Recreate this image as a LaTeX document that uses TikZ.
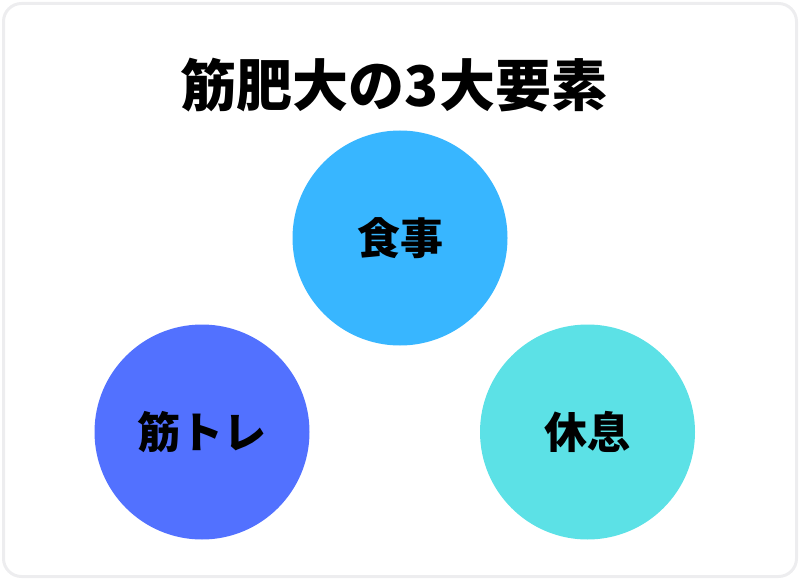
\documentclass[tikz,border=0pt]{standalone}
\usepackage{fontspec}
\setmainfont{Noto Sans CJK JP}
\usepackage{tikz}
\usetikzlibrary{positioning}
\definecolor{foodblue}{HTML}{38B6FF}
\definecolor{trainblue}{HTML}{5271FF}
\definecolor{restcyan}{HTML}{5CE1E6}
\definecolor{framegray}{HTML}{EDEDEF}
\tikzset{
	frame/.style={draw=framegray, line width=3pt, rounded corners=18pt},
	element/.style={circle, minimum size=215pt, inner sep=0pt, font=\fontsize{43}{47}\selectfont\bfseries}
}
\begin{document}
\begin{tikzpicture}[x=1pt, y=-1pt]
		\useasboundingbox (0,0) rectangle (800,580);
		\draw[frame] (3.5,3.5) rectangle (796.5,576.5);
		
		\node[font=\fontsize{56}{62}\selectfont\bfseries] (title) at (394,85) {筋肥大の3大要素};
		
		\node[element, fill=foodblue] (food) at (400,238) {食事};
		\node[element, fill=trainblue] (train) at (202,432) {筋トレ};
		\node[element, fill=restcyan] (rest) at (587.5,432) {休息};
	\end{tikzpicture}
\end{document}
